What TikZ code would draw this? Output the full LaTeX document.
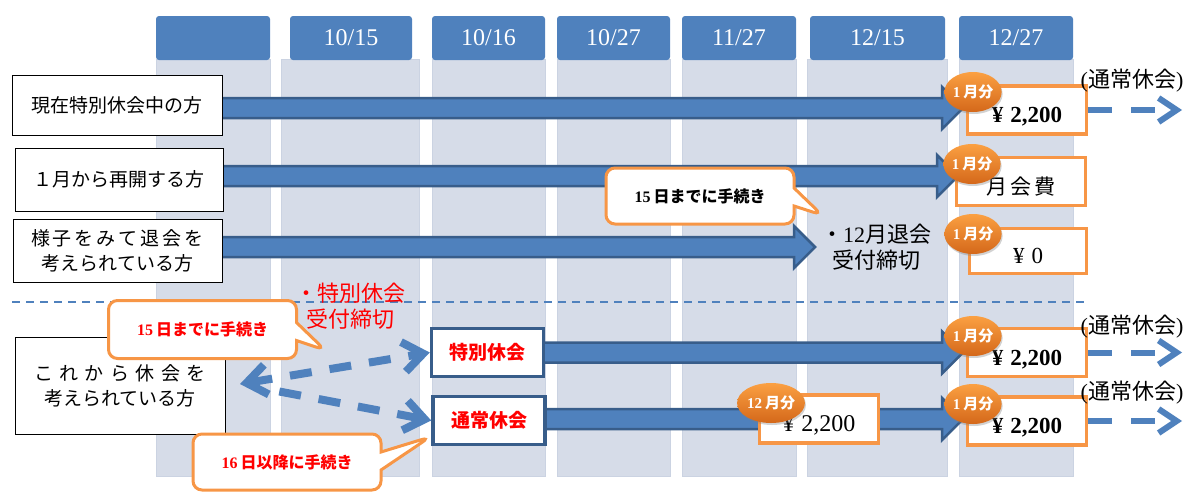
\documentclass[tikz,border=0pt]{standalone}
\usepackage{fontspec}
\setmainfont{Liberation Serif}
\newfontfamily\jp{Noto Sans CJK JP}
\usetikzlibrary{calc,arrows.meta,shapes.geometric,shapes.callouts,shadows}

\definecolor{hdrblue}{RGB}{79,129,189}
\definecolor{arrline}{RGB}{56,93,138}
\definecolor{colbg}{RGB}{214,220,232}
\definecolor{colline}{RGB}{203,211,226}
\definecolor{fborange}{RGB}{247,150,70}
\definecolor{ballA}{RGB}{251,160,66}
\definecolor{ballB}{RGB}{212,104,26}

\pgfdeclarelayer{back}
\pgfdeclarelayer{mid}
\pgfsetlayers{back,mid,main}

\newcommand\wgap{\kern6.5pt}
\newcommand\ngap{\kern3pt}
\newcommand\yen{¥\kern7pt}
% broad blue arrow from a node to a tip coordinate
\newcommand\bigarr[2]{%
  \path[bigarrow] let \p1=(#1), \p2=(#2) in
    (\x1-3pt,\y2+10pt) -- (\x2-21pt,\y2+10pt) -- (\x2-21pt,\y2+21pt) -- (\x2,\y2)
    -- (\x2-21pt,\y2-21pt) -- (\x2-21pt,\y2-10pt) -- (\x1-3pt,\y2-10pt) -- cycle;}

\tikzset{
  hdr/.style={text=white,font=\fontsize{24}{28}\selectfont},
  rowbox/.style={draw,fill=white,line width=0.8pt,align=center,inner sep=0pt,
    font=\jp\fontsize{19}{25}\selectfont},
  feebox/.style={draw=fborange,fill=white,line width=3.5pt,inner sep=0pt,
    minimum width=119pt,minimum height=48pt,text height=25pt,text depth=0pt,
    font=\bfseries\fontsize{23}{25}\selectfont},
  month/.style={ellipse,top color=ballA,bottom color=ballB,text=white,inner sep=0pt,
    minimum width=44pt,minimum height=40pt,font=\bfseries\fontsize{15}{16}\selectfont,
    drop shadow={opacity=.35,shadow xshift=1pt,shadow yshift=-2pt}},
  plan/.style={draw=arrline,fill=white,line width=3.5pt,text=red,inner sep=0pt,
    minimum width=112pt,minimum height=48pt,font=\jp\bfseries\fontsize{19}{22}\selectfont},
  note/.style={rectangle callout,rounded corners=9pt,draw=fborange,fill=white,
    line width=3pt,inner sep=0pt,callout pointer width=18pt,
    minimum width=188pt,minimum height=56pt,font=\bfseries\fontsize{16}{20}\selectfont},
  bigarrow/.style={fill=hdrblue,draw=arrline,line width=2.5pt},
  flow/.style={draw=hdrblue,line width=6pt,dash pattern=on 24pt off 19pt,
    -{Straight Barb[length=18pt,width=24pt]}},
  choice/.style={draw=hdrblue,line width=8pt,dash pattern=on 22pt off 18pt},
  after/.style={font=\fontsize{22}{24}\selectfont},
  cutoff/.style={align=center,font=\jp\fontsize{22}{26}\selectfont},
}

\begin{document}
\begin{tikzpicture}[x=1pt,y=-1pt]
\useasboundingbox (0,0) rectangle (1198,501);

\begin{pgfonlayer}{back}
\foreach \bl/\br/\hl/\hr/\d [count=\i] in {156/270/156/270/{},281/419/290/412/{10/15},
    432/545/432/545/{10/16},557/670/557/670/{10/27},682/796/682/796/{11/27},
    807/947/810/945/{12/15},959/1073/959/1073/{12/27}}{
  \draw[fill=colbg,draw=colline,line width=1pt] (\bl,59) rectangle (\br,476);
  \fill[hdrblue,rounded corners=3pt] (\hl,16) rectangle (\hr,60);
  \node[hdr] (hd\i) at ({(\hl+\hr)/2},38) {\d};
}
\draw[hdrblue,line width=1.5pt,dash pattern=on 8pt off 6pt] (12,302) -- (1084,302);
\end{pgfonlayer}

% who
\node[rowbox,minimum width=210pt,minimum height=60pt] (who1) at (117,105) {現在特別休会中の方};
\node[rowbox,minimum width=208pt,minimum height=63pt] (who2) at (119,179.5) {１月から再開する方};
\node[rowbox,minimum width=209pt,minimum height=63pt] (who3) at (117.5,250.5)
  {様\ngap 子\ngap を\ngap み\ngap て\ngap 退\ngap 会\ngap を\\考えられている方};
\node[rowbox,minimum width=210pt,minimum height=97pt] (who4) at (120,385.5)
  {こ\wgap れ\wgap か\wgap ら\wgap 休\wgap 会\wgap を\\考えられている方};

\node[plan] (toku) at (487.5,352.5) {特別休会};
\node[plan] (tsujo) at (489,420.5) {通常休会};

% fees
\node[feebox] (fee1) at (1027,110) {\yen 2,200};
\node[feebox,minimum width=129pt,font=\jp\fontsize{21}{24}\selectfont] (fee2) at (1021,181.5) {月\ngap 会\ngap 費};
\node[feebox,minimum width=117pt,minimum height=45pt,font=\fontsize{23}{25}\selectfont] (fee3) at (1028,251) {\yen 0};
\node[feebox] (fee4) at (1027,352.5) {\yen 2,200};
\node[feebox] (fee5) at (1027,421) {\yen 2,200};
\node[feebox,font=\fontsize{24}{26}\selectfont] (fee12) at (819,419) {\yen 2,200};

\node[month] (mo1) at (973,92) {1\kern3pt{\jp 月分}};
\node[month] (mo2) at (972,164) {1\kern3pt{\jp 月分}};
\node[month] (mo3) at (973,234) {1\kern3pt{\jp 月分}};
\node[month] (mo4) at (973,336) {1\kern3pt{\jp 月分}};
\node[month] (mo5) at (973,404) {1\kern3pt{\jp 月分}};
\node[month,minimum width=53pt] (mo12) at (771,403) {12\kern3pt{\jp 月分}};

\node[after] (aft1) at (1132,81) {({\jp 通常休会})};
\node[after] (aft4) at (1132,327) {({\jp 通常休会})};
\node[after] (aft5) at (1132,393) {({\jp 通常休会})};

\node[cutoff,text=red] (cut1) at (350,306) {・特別休会\\受付締切};
\node[cutoff] (cut2) at (876,247) {・{\rmfamily 12}月退会\\受付締切};

\coordinate (e1) at (963,108);
\coordinate (e2) at (958,176);
\coordinate (e3) at (815,247);
\coordinate (e4) at (963,352.5);
\coordinate (e5) at (963,419);
\begin{pgfonlayer}{mid}
\bigarr{who1.east}{e1}
\bigarr{who2.east}{e2}
\bigarr{who3.east}{e3}
\bigarr{toku.east}{e4}
\bigarr{tsujo.east}{e5}
\end{pgfonlayer}

\coordinate (r1) at (1182,110);
\coordinate (r4) at (1182,351);
\coordinate (r5) at (1182,419);
\draw[flow] (fee1.east) -- (fee1.east -| r1);
\draw[flow] (fee4.east) -- (fee4.east -| r4);
\draw[flow] (fee5.east) -- (fee5.east -| r5);

\coordinate (src) at (240,384);
\draw[choice,{Straight Barb[length=20pt,width=30pt]}-{Straight Barb[length=20pt,width=30pt]}] (src) -- (toku.west);
\draw[choice,-{Straight Barb[length=20pt,width=30pt]},shorten <=40pt] (src) -- (tsujo.west);

% notes
\coordinate (p1) at (822,215);
\coordinate (p2) at (325,350);
\coordinate (p3) at (430,437);
\node[note,callout absolute pointer=(p1)] (n1) at (700,196) {15\kern3pt{\jp 日までに手続き}};
\node[note,text=red,minimum height=58pt,callout absolute pointer=(p2)] (n2) at (202.5,329.5) {15\kern3pt{\jp 日までに手続き}};
\node[note,text=red,callout absolute pointer=(p3)] (n3) at (287,462) {16\kern3pt{\jp 日以降に手続き}};
\end{tikzpicture}
\end{document}
